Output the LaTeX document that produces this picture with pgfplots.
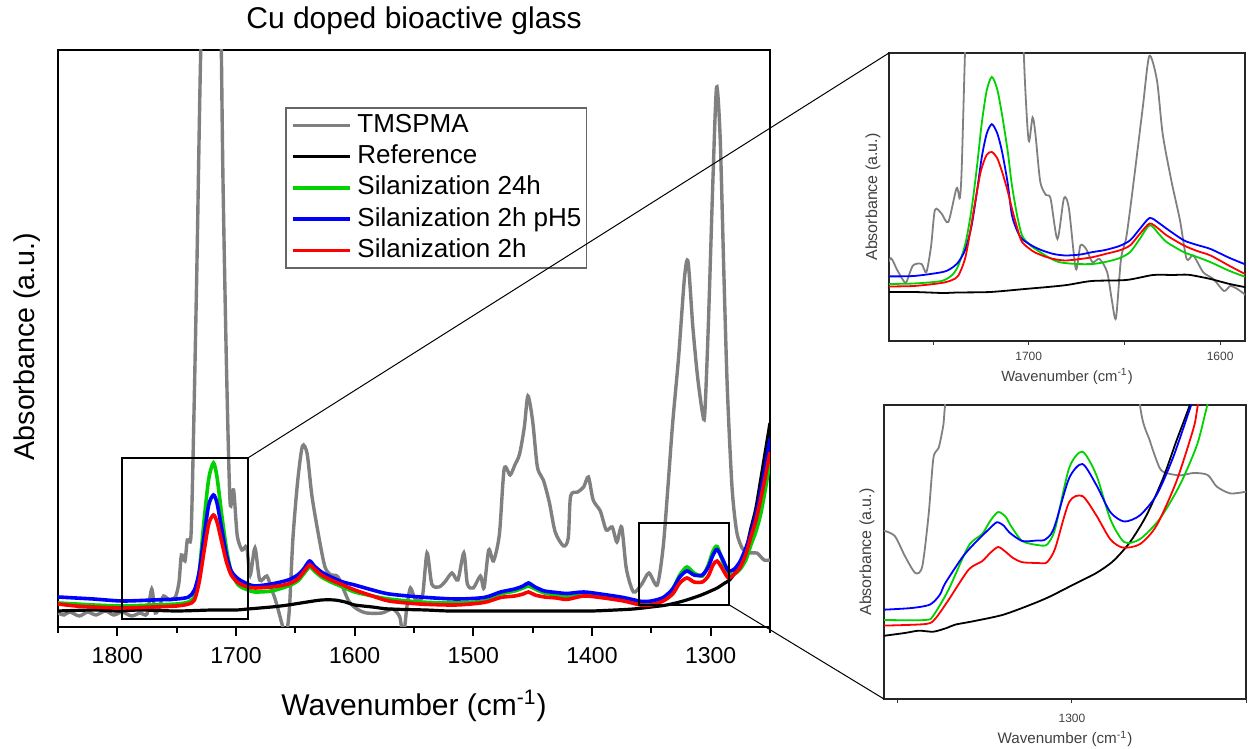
\documentclass[border=0pt]{standalone}
\usepackage{fontspec}
\setmainfont{Liberation Sans}
\usepackage{pgfplots}
\pgfplotsset{compat=1.18}
\definecolor{tmsgray}{RGB}{128,128,128}
\definecolor{silgreen}{RGB}{0,210,0}
\definecolor{silblue}{RGB}{0,0,255}
\definecolor{silred}{RGB}{255,0,0}
\definecolor{insettext}{RGB}{64,64,64}

\pgfplotsset{
  /pgf/number format/1000 sep={},
  /pgf/number format/assume math mode=true,
  spectrum/.style={no markers, smooth, tension=0.45},
  inset/.style={
    scale only axis, anchor=south west,
    x dir=reverse, ytick=\empty,
    xtick pos=left, tick align=outside,
    major tick length=1.8pt, minor tick length=1.8pt,
    every tick/.style={black!80, line width=0.5pt},
    axis line style={black!85, line width=0.6pt},
    xticklabel style={font=\fontsize{6}{7}\selectfont, text=insettext},
    xlabel={Wavenumber (cm\textsuperscript{-1})},
    ylabel={Absorbance (a.u.)},
  },
}

\begin{document}
\begin{tikzpicture}
\useasboundingbox (0,0) rectangle (625pt,374.5pt);

% main spectrum
\begin{axis}[
  at={(29pt,61pt)}, anchor=south west, scale only axis,
  width=356pt, height=288.5pt,
  xmin=1250, xmax=1850, x dir=reverse,
  ymin=0, ymax=577,
  ytick=\empty,
  xtick={1300,1400,...,1800},
  minor xtick={1250,1350,...,1850},
  xtick pos=left, tick align=outside,
  major tick length=4.5pt, minor tick length=3pt,
  every tick/.style={black, line width=1pt},
  axis line style={line width=1pt},
  xticklabel style={font=\fontsize{11.5}{13}\selectfont, yshift=-2pt},
  title={Cu doped bioactive glass},
  every axis title/.style={at={(axis description cs:0.5,1.05)}, anchor=center, font=\fontsize{15}{18}\selectfont},
  xlabel={Wavenumber (cm\textsuperscript{-1})},
  xlabel style={at={(axis description cs:0.5,-0.137)}, anchor=center, font=\fontsize{15}{18}\selectfont},
  ylabel={Absorbance (a.u.)},
  ylabel style={at={(axis description cs:-0.0435,0.486)}, anchor=center, font=\fontsize{14.3}{17}\selectfont},
  legend style={at={(axis description cs:0.319,0.901)}, anchor=north west,
    draw=black!60, line width=0.7pt, fill=white,
    font=\fontsize{13}{15}\selectfont, inner xsep=2.5pt, inner ysep=2.5pt,
    nodes={inner sep=0pt, text height=9.8pt, text depth=2.9pt}, row sep=2.9pt,
    /tikz/every odd column/.append style={column sep=3pt}},
  legend cell align=left,
  legend image code/.code={\draw[#1] (0pt,0pt) -- (28.5pt,0pt);},
]
\addplot[tmsgray, line width=1.7pt, spectrum] coordinates {
(1850,14)(1845,12)(1840,15)(1832,11)(1825,15)(1818,12)(1810,16)(1803,12)(1796,15)(1788,11)
(1781,14)(1775,13)(1771,38)(1768,14)(1764,22)(1761,31)(1756,27)(1751,30)(1748,45)(1746,72)
(1743,66)(1741,87)(1738,90)(1736,180)(1733,357)(1730,560)(1726,750)(1720,800)(1714,700)(1711,450)
(1708,260)(1705,125)(1702,137)(1699,92)(1695,77)(1691,80)(1688,52)(1684,79)(1680,47)(1674,51)
(1670,38)(1666,24)(1661,2)(1658,-10)(1655,18)(1652,89)(1648,146)(1644,181)(1640,173)(1636,131)
(1630,89)(1625,60)(1620,52)(1614,50)(1605,26)(1598,18)(1590,14)(1577,14)(1568,18)(1562,10)
(1559,-10)(1556,20)(1553,39)(1549,28)(1543,30)(1539,74)(1535,43)(1529,40)(1524,45)(1518,54)
(1513,47)(1508,74)(1505,43)(1500,39)(1494,51)(1491,39)(1487,77)(1483,66)(1478,93)(1474,158)
(1469,152)(1465,162)(1461,173)(1457,200)(1454,231)(1450,206)(1446,160)(1441,147)(1436,125)(1431,95)
(1424,81)(1420,89)(1418,131)(1412,135)(1407,140)(1403,150)(1399,127)(1393,116)(1388,97)(1383,100)
(1379,85)(1375,100)(1371,58)(1365,35)(1358,43)(1352,54)(1345,42)(1340,80)(1336,140)(1332,204)
(1327,270)(1322,350)(1319,365)(1315,300)(1311,250)(1307,215)(1305,212)(1302,300)(1298,450)(1295,540)
(1292,490)(1289,360)(1286,240)(1282,140)(1278,95)(1273,78)(1267,74)(1261,74)(1255,67)(1250,67)
};
\addlegendentry{TMSPMA}
\addplot[black, line width=1.6pt, spectrum] coordinates {
(1850,16)(1820,17)(1800,16)(1780,17)(1750,16)(1720,17)(1700,17)(1690,18)(1670,20)(1656,22)
(1640,25)(1628,27)(1617,27)(1608,25)(1600,22)(1585,20)(1571,18)(1540,17)(1520,16)(1480,16)
(1450,16)(1420,16)(1400,16)(1380,17)(1365,18)(1350,20)(1337,22)(1323,26)(1309,31.5)(1300,36)
(1294.5,39)(1288,44)(1284,47)(1279,55)(1275,62)(1270,78)(1266.4,97)(1262,118)(1258,146)(1254,175)
(1250,204)
};
\addlegendentry{Reference}
\addplot[silgreen, line width=1.8pt, spectrum] coordinates {
(1850,24)(1835,23)(1820,22)(1796,21)(1770,22)(1750,23)(1740,25)(1735,31)(1731,55)(1727,105)
(1723,148)(1719,164)(1716,150)(1712,112)(1708,78)(1704,55)(1698,42)(1690,37)(1684,35)(1670,36)
(1656,41)(1648,46)(1643,53)(1638,60)(1634,56)(1628,50)(1620,45)(1610,40)(1600,35)(1585,31)
(1571,28)(1545,25)(1515,24)(1491,26)(1477,33)(1465,36)(1458,39)(1453.5,41)(1448,38)(1440,34)
(1430,32)(1421,30)(1407,32)(1393,30)(1373.5,27)(1359,24.5)(1350,25)(1340,27.6)(1332,38)(1326,52)
(1320,60)(1314,54)(1307,51)(1302,62)(1298,76)(1294.5,80.5)(1290,66)(1285,52.5)(1280,53)(1275,58)
(1270,68)(1266.4,81)(1262,95)(1258,112)(1254,137)(1250,165)
};
\addlegendentry{Silanization 24h}
\addplot[silblue, line width=1.8pt, spectrum] coordinates {
(1850,30)(1835,29)(1820,28)(1796,26)(1770,27)(1750,28)(1740,30)(1735,37)(1731,55)(1727,90)
(1723,122)(1719,132)(1716,124)(1712,98)(1708,72)(1704,56)(1698,48)(1690,43)(1684,41)(1670,43)
(1656,47)(1648,52)(1643,58)(1638,66)(1634,61)(1628,55)(1620,50)(1610,45)(1600,42)(1585,37)
(1571,33)(1545,30)(1515,28)(1491,29.5)(1477,35)(1465,38)(1458,41)(1453.5,44)(1448,40)(1440,36)
(1430,34.5)(1421,33.5)(1407,35)(1393,33)(1373.5,29.5)(1359,25.7)(1350,26)(1340,29.5)(1332,38)(1326,50)
(1320,56)(1314,52)(1307,52)(1302,60)(1298,72)(1294.5,77.4)(1290,68)(1285,56)(1280,58)(1275,66)
(1270,80)(1266.4,93)(1262,112)(1258,135)(1254,160)(1250,188.5)
};
\addlegendentry{Silanization 2h pH5}
\addplot[silred, line width=1.8pt, spectrum] coordinates {
(1850,23)(1835,21)(1820,20)(1796,19)(1770,20)(1750,21)(1740,23)(1735,27)(1731,45)(1727,75)
(1723,103)(1719,112)(1716,105)(1712,85)(1708,65)(1704,52)(1698,44)(1690,40)(1684,39)(1670,40)
(1656,43)(1648,48)(1643,55)(1638,62)(1634,58)(1628,52)(1620,47)(1610,42)(1600,37)(1585,31)
(1571,26)(1545,23)(1515,22)(1491,24.5)(1477,29.5)(1465,31)(1458,33)(1453.5,35)(1448,32)(1440,30)
(1430,29)(1421,27.6)(1407,31)(1393,29.5)(1373.5,26)(1359,22)(1350,22)(1340,26)(1332,33)(1326,44)
(1320,49)(1314,45)(1307,45)(1302,51)(1298,62)(1294.5,66)(1290,58)(1285,49)(1280,53)(1275,60)
(1270,74)(1266.4,89)(1262,106)(1258,127)(1254,150)(1250,175)
};
\addlegendentry{Silanization 2h}
% zoom boxes
\draw[line width=1pt] (axis cs:1796,8) rectangle (axis cs:1690,169);
\draw[line width=1pt] (axis cs:1360,22) rectangle (axis cs:1284.2,104);
\coordinate (ra) at (axis cs:1690,169);
\coordinate (rb) at (axis cs:1284.2,22);
\end{axis}

% inset: carbonyl region
\begin{axis}[inset,
  at={(444.5pt,204pt)}, width=178pt, height=144pt,
  xmin=1587, xmax=1773, ymin=0, ymax=288,
  xtick={1600,1700}, minor xtick={1650,1750},
  xlabel style={at={(axis description cs:0.5,-0.1215)}, anchor=center, font=\fontsize{7.4}{9}\selectfont, text=insettext},
  ylabel style={at={(axis description cs:-0.045,0.5)}, anchor=center, font=\fontsize{8}{9}\selectfont, text=insettext},
]
\addplot[tmsgray, line width=0.9pt, spectrum] coordinates {
(1775,72)(1772,82.8)(1769,72)(1766,62)(1764,58.6)(1760.5,75.4)(1756,77)(1753.5,68.7)(1751,95)(1749,131)
(1745.6,127.6)(1742,119)(1737.7,152.8)(1736,142.7)(1735,173)(1733.3,287.5)(1731.6,380)(1726,600)(1720,700)(1712,600)
(1705,400)(1702,260.6)(1700,200)(1698,223.6)(1696.5,207)(1694,159.6)(1691,146)(1688.6,142.7)(1685,102)(1681.6,142.7)
(1679,132.6)(1675.4,72)(1673,95.6)(1670,92)(1666.7,78.8)(1663,82)(1659,68.7)(1656.5,40)(1654.4,23)(1651.8,82)
(1649,104)(1645.6,152.8)(1640.4,233.7)(1637,285)(1633,260.6)(1630,207)(1625.4,159.6)(1621,121)(1617.5,82)(1614,85.5)
(1608.8,68.7)(1603.5,62)(1598,50)(1594.7,55)(1591,52)(1586,45)
};
\addplot[black, line width=0.9pt, spectrum] coordinates {
(1775,49)(1760,49)(1745,48)(1737,48.5)(1720,49)(1702,52)(1690,54)(1680,56)(1667,60)(1649,61)
(1635,66)(1625,66)(1617,66.3)(1610,64)(1605,62)(1595,57)(1586,53.5)
};
\addplot[silgreen, line width=0.9pt, spectrum] coordinates {
(1775,57)(1760,57.5)(1745.6,60)(1740,66)(1736.8,75.4)(1733,98)(1729.8,132.6)(1727,175)(1724.6,216.8)(1722,250)
(1719.3,264)(1716.5,252)(1714,227)(1711,190)(1708.8,156)(1706,125)(1703.5,105.7)(1700,97)(1696.5,92)(1690,84)
(1684,78.8)(1675,77)(1666.7,77)(1660,79)(1652.6,82.8)(1647,88.9)(1642,102)(1636.8,115.8)(1632,107)(1628,99)
(1619,88.9)(1612,84)(1605,78.8)(1595,70)(1586,63.6)
};
\addplot[silblue, line width=0.9pt, spectrum] coordinates {
(1775,64.6)(1760,65)(1745.6,68.7)(1741,72)(1736.8,78.8)(1733,92)(1729.8,115.8)(1727,150)(1724.6,183)(1722,207)
(1719.3,216.8)(1716.5,208)(1714,190)(1711,158)(1708.8,126)(1706,110)(1703.5,102)(1698,95)(1693,90.6)(1687,87)
(1680.7,85.5)(1673,86.5)(1666.7,88.9)(1660,91)(1652.6,95)(1647,100.7)(1642,112)(1636.8,123)(1632,118)(1628,112.4)
(1619,100.7)(1612,96)(1605,92)(1595,83)(1586,76)
};
\addplot[silred, line width=0.9pt, spectrum] coordinates {
(1775,54.5)(1760,55)(1745.6,58)(1740,61)(1736.8,65.3)(1733.3,82)(1730.5,110)(1728,139)(1725,170)(1722,186)
(1719.3,189)(1716.5,183)(1714,169.7)(1711,150)(1708.8,132.6)(1706,113)(1703.5,99)(1698,90)(1693,85.5)(1687,82)
(1680.7,80.5)(1673,82)(1666.7,83.8)(1660,87)(1652.6,90.6)(1647,95.6)(1642,107)(1636.8,117.5)(1632,112)(1628,105.7)
(1619,95.6)(1612,90)(1605,85.5)(1595,75)(1586,66)
};
\coordinate (ia) at (rel axis cs:0,1);
\end{axis}

% inset: low wavenumber region
\begin{axis}[inset,
  at={(442pt,25pt)}, width=181pt, height=147pt,
  xmin=1250, xmax=1354, ymin=0, ymax=294,
  xtick={1300}, minor xtick={1250,1350},
  xticklabel style={yshift=-2pt},
  xlabel style={at={(axis description cs:0.5,-0.136)}, anchor=center, font=\fontsize{7.6}{9}\selectfont, text=insettext},
  ylabel style={at={(axis description cs:-0.047,0.5)}, anchor=center, font=\fontsize{8}{9}\selectfont, text=insettext},
]
\addplot[tmsgray, line width=0.9pt, spectrum] coordinates {
(1354,168.3)(1350.9,163)(1348,143)(1345,126)(1343,132.7)(1341.2,183.6)(1339.8,241)(1338.3,251)(1336.9,275)(1336.4,295.4)
(1333,400)(1326,650)(1319,850)(1313,650)(1305,600)(1301,850)(1295,1100)(1289,800)(1284,450)(1280.5,295.4)
(1277.6,258)(1274.8,231)(1272.8,226)(1269,223.6)(1265,226)(1261,224)(1258.4,212.4)(1254.5,205.6)(1250,207.3)
};
\addplot[black, line width=0.9pt, spectrum] coordinates {
(1354,63.2)(1348,66)(1344,68.3)(1339.8,67.3)(1336,71)(1333.5,74.4)(1328.7,77.5)(1320,84)(1312.3,93.7)(1306.6,102)
(1298.8,115.8)(1293,126)(1288.2,137.8)(1283.4,156.5)(1278.6,183.6)(1273.8,220.9)(1270,258)(1266,295.4)(1263,330)
};
\addplot[silgreen, line width=0.9pt, spectrum] coordinates {
(1354,79)(1342,79)(1339.8,83.6)(1335.5,109)(1329.7,153)(1325.8,165)(1323.5,178)(1321.2,187)(1319,182)(1317.6,173.4)
(1314.3,158)(1310,154)(1307.5,153.7)(1306,160)(1304.6,173.4)(1300.8,231)(1297,247.3)(1293,224)(1289,180)(1285,157)
(1280.5,159.8)(1274.8,180)(1269,214)(1264,254.8)(1261,295.4)(1258,330)
};
\addplot[silblue, line width=0.9pt, spectrum] coordinates {
(1354,89.3)(1346,91)(1340.8,94.4)(1338,104)(1336.4,115.8)(1331.6,141.2)(1328.7,153)(1325.8,163.2)(1323.5,171)(1321.5,176.8)
(1319.5,173)(1318,166.6)(1314.3,158)(1310,158.5)(1308,158.8)(1306,165)(1304.6,176.8)(1300.8,220.9)(1297,235)(1293,214)
(1289,187)(1285,177.5)(1280.5,183.6)(1275.7,204)(1271,241)(1265.6,295.4)(1262,330)
};
\addplot[silred, line width=0.9pt, spectrum] coordinates {
(1354,73.4)(1342,75)(1339.3,80.2)(1335.5,98.8)(1329.7,129.3)(1325.8,137.8)(1323.5,146)(1321.2,152)(1319,147)(1317,141.2)
(1314.3,136.8)(1310,136)(1307.5,136)(1306,142)(1304.6,153)(1300.8,197)(1297,202.9)(1293,183.6)(1289,159.8)(1285.4,151.4)
(1280.5,154.8)(1275.7,173.4)(1270,217.5)(1265,271.7)(1263.7,295.4)(1260,340)
};
\coordinate (ib) at (rel axis cs:0,0);
\end{axis}

% connector lines from zoom boxes to insets
\draw[line width=0.5pt] (ra) -- (ia);
\draw[line width=0.5pt] (rb) -- (ib);
\end{tikzpicture}
\end{document}
